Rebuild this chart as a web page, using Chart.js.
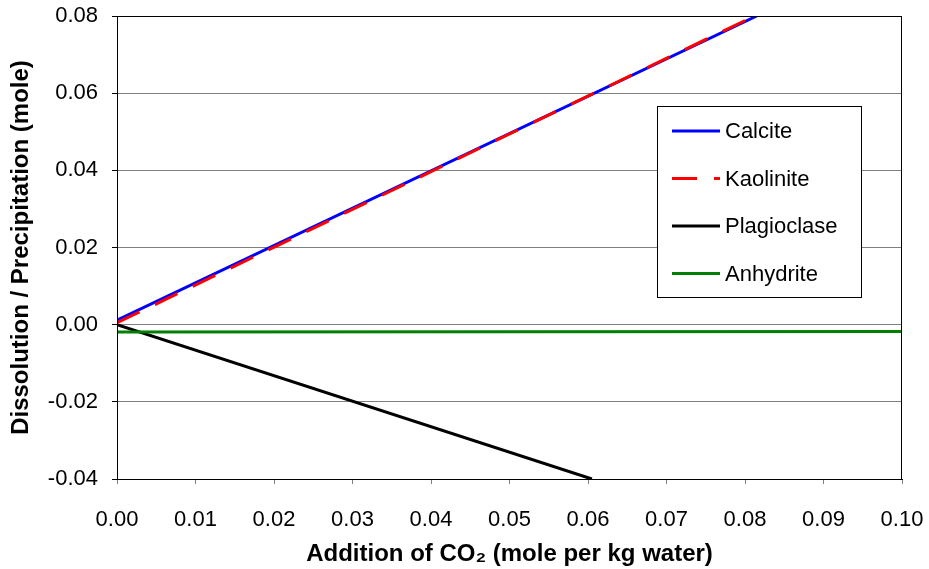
<!DOCTYPE html>
<html>
<head>
<meta charset="utf-8">
<script src="https://cdn.jsdelivr.net/npm/chart.js@4.4.0/dist/chart.umd.min.js"></script>
<style>
  body { margin: 0; background: #fff; }
  canvas { display: block; }
</style>
</head>
<body>
<canvas id="co2Chart" width="929" height="569"></canvas>
<script>
// values (x = CO2 added, y = moles)
const calciteX = [0, 0.0815];
const calciteY = [0.0012, 0.08];
const kaoliniteX = [0, 0.0812];
const kaoliniteY = [0.0005, 0.08];
const plagioclaseX = [0, 0.0605];
const plagioclaseY = [0, -0.04];
const anhydriteX = [0, 0.1];
const anhydriteY = [-0.0019, -0.0018];

const seriesNames = ['Calcite', 'Kaolinite', 'Plagioclase', 'Anhydrite'];
const xTitle = 'Addition of CO\u2082 (mole per kg water)';
const yTitle = 'Dissolution / Precipitation (mole)';

const FONT = '"Liberation Sans", Arial, sans-serif';

function pts(xs, ys) {
    return xs.map((x, i) => ({ x: x, y: ys[i] }));
}

// box legend sitting inside the plot, like the excel one
const boxLegend = {
    id: 'boxLegend',
    afterDraw(chart) {
        const ctx = chart.ctx;
        const area = chart.chartArea;
        ctx.save();
        // plot frame
        ctx.strokeStyle = '#000';
        ctx.lineWidth = 1;
        ctx.strokeRect(area.left + 0.5, area.top + 0.5, area.right - area.left - 1, area.bottom - area.top);

        const bx = 657, by = 106, bw = 204, bh = 191;
        ctx.fillStyle = '#fff';
        ctx.fillRect(bx, by, bw, bh);
        ctx.strokeStyle = '#000';
        ctx.strokeRect(bx + 0.5, by + 0.5, bw, bh);

        ctx.font = '22px ' + FONT;
        ctx.textBaseline = 'middle';
        chart.data.datasets.forEach((ds, i) => {
            const y = 131 + i * 47.5;
            ctx.beginPath();
            ctx.strokeStyle = ds.borderColor;
            ctx.lineWidth = ds.borderWidth;
            ctx.setLineDash(ds.borderDash || []);
            ctx.moveTo(672, y);
            ctx.lineTo(720, y);
            ctx.stroke();
            ctx.setLineDash([]);
            ctx.fillStyle = '#000';
            ctx.fillText(ds.label, 725, y + 1);
        });
        ctx.restore();
    }
};

new Chart(document.getElementById('co2Chart'), {
    type: 'line',
    data: {
        datasets: [
            { label: seriesNames[0], data: pts(calciteX, calciteY), borderColor: '#0000ff', borderWidth: 3, order: 2 },
            { label: seriesNames[1], data: pts(kaoliniteX, kaoliniteY), borderColor: '#ff0000', borderWidth: 3, borderDash: [25, 17], order: 1 },
            { label: seriesNames[2], data: pts(plagioclaseX, plagioclaseY), borderColor: '#000000', borderWidth: 3, order: 4 },
            { label: seriesNames[3], data: pts(anhydriteX, anhydriteY), borderColor: '#008000', borderWidth: 3, order: 3 }
        ]
    },
    options: {
        responsive: false,
        animation: false,
        devicePixelRatio: 1,
        layout: { padding: { left: 0, top: 16, right: 27, bottom: 0 } },
        elements: { point: { radius: 0 }, line: { tension: 0 } },
        plugins: {
            legend: { display: false },
            tooltip: { enabled: false }
        },
        scales: {
            x: {
                type: 'linear',
                min: 0,
                max: 0.1,
                afterFit: scale => {
                    scale.height = 90;
                    scale.paddingLeft = 0;
                    scale.paddingRight = 0;
                },
                ticks: {
                    stepSize: 0.01,
                    padding: 23,
                    maxRotation: 0,
                    color: '#000',
                    font: { family: FONT, size: 22 },
                    callback: v => v.toFixed(2)
                },
                grid: { drawOnChartArea: false, tickLength: 5, color: '#808080' },
                border: { color: '#000' },
                title: {
                    display: true,
                    text: xTitle,
                    color: '#000',
                    padding: { top: 0, bottom: 0 },
                    font: { family: FONT, size: 24, weight: 'bold' }
                }
            },
            y: {
                min: -0.04,
                max: 0.08,
                afterFit: scale => {
                    scale.width = 117;
                    scale.paddingTop = 0;
                    scale.paddingBottom = 0;
                },
                ticks: {
                    stepSize: 0.02,
                    padding: 14,
                    color: '#000',
                    font: { family: FONT, size: 22 },
                    callback: v => v.toFixed(2)
                },
                grid: { color: '#808080', tickColor: '#000', tickLength: 5 },
                border: { color: '#000' },
                title: {
                    display: true,
                    text: yTitle,
                    color: '#000',
                    padding: { top: 7, bottom: 0 },
                    font: { family: FONT, size: 24, weight: 'bold' }
                }
            }
        }
    },
    plugins: [boxLegend]
});
</script>
</body>
</html>
